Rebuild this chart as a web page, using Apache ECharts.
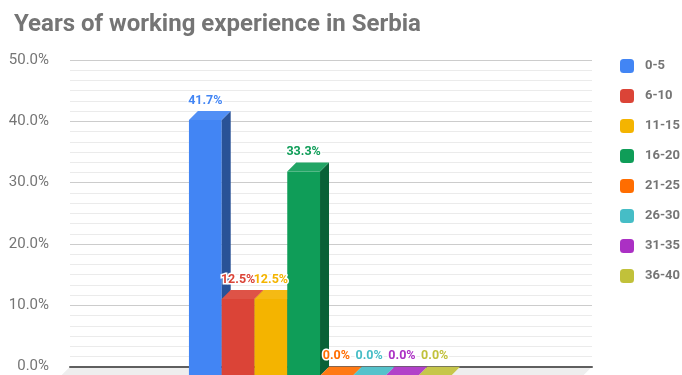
<!DOCTYPE html>
<html>
<head>
<meta charset="utf-8">
<script src="https://cdn.jsdelivr.net/npm/echarts@6/dist/echarts.min.js"></script>
<style>
  html, body { margin: 0; padding: 0; background: #fff; }
  #chart { width: 682px; height: 375px; }
</style>
</head>
<body>
<div id="chart"></div>
<script>
// Experience bands (years) and the share of respondents in each
const groups = ['0-5', '6-10', '11-15', '16-20', '21-25', '26-30', '31-35', '36-40'];
const shares = [41.7, 12.5, 12.5, 33.3, 0, 0, 0, 0];
const colors = ['#4285f4', '#db4437', '#f4b400', '#0f9d58', '#ff6d00', '#46bdc6', '#ab30c4', '#c1c13a'];
const yTicks = [0, 10, 20, 30, 40, 50];

const DEPTH = 9; // 3D extrusion in pixels

function shade(hex, f) {
  const n = parseInt(hex.slice(1), 16);
  let r = (n >> 16) & 255, g = (n >> 8) & 255, b = n & 255;
  if (f < 0) { r *= 1 + f; g *= 1 + f; b *= 1 + f; }
  else { r += (255 - r) * f; g += (255 - g) * f; b += (255 - b) * f; }
  return 'rgb(' + Math.round(r) + ',' + Math.round(g) + ',' + Math.round(b) + ')';
}

function renderBar(params, api) {
  const idx = api.value(0), v = api.value(1);
  const top = api.coord([idx, v]);
  const base = api.coord([idx, 0]);
  const w = api.size([1, 0])[0];
  const x0 = top[0] - w / 2, x1 = top[0] + w / 2;
  const yt = top[1] + DEPTH, yb = base[1] + DEPTH;
  const c = colors[params.seriesIndex - 1];
  return {
    type: 'group',
    children: [
      { type: 'rect', shape: { x: x0, y: yt, width: w, height: yb - yt }, style: { fill: c } },
      { type: 'polygon', shape: { points: [[x1, yt], [x1 + DEPTH, yt - DEPTH], [x1 + DEPTH, yb - DEPTH], [x1, yb]] },
        style: { fill: shade(c, -0.38) } },
      { type: 'polygon', shape: { points: [[x0, yt], [x1, yt], [x1 + DEPTH, yt - DEPTH], [x0 + DEPTH, yt - DEPTH]] },
        style: { fill: shade(c, 0.08) } },
      { type: 'text', z2: 10, style: {
          text: v.toFixed(1) + '%', x: top[0], y: top[1] - 10.5,
          fill: c, stroke: '#fff', lineWidth: 3,
          font: 'bold 12.5px Roboto, sans-serif', align: 'center', verticalAlign: 'middle' } }
    ]
  };
}

function renderFloor(params, api) {
  const l = api.coord([xMin, 0]), r = api.coord([xMax, 0]);
  return {
    type: 'polygon',
    shape: { points: [[l[0], l[1]], [r[0], r[1]], [r[0] - DEPTH, r[1] + DEPTH], [l[0] - DEPTH, l[1] + DEPTH]] },
    style: { fill: '#eeeeee' }
  };
}

const xMin = -4.13, xMax = 11.8;

const series = [{
  type: 'custom', name: 'floor', z: 0, silent: true,
  renderItem: renderFloor, data: [[0, 0]]
}];
groups.forEach((g, i) => {
  series.push({
    type: 'custom', name: g, z: 2,
    itemStyle: { color: colors[i] },
    renderItem: renderBar,
    data: [[i, shares[i]]]
  });
});

const chart = echarts.init(document.getElementById('chart'), null, { renderer: 'canvas' });
chart.setOption({
  animation: false,
  color: colors,
  title: {
    text: 'Years of working experience in Serbia',
    left: 9, top: 8,
    textStyle: { fontFamily: 'Roboto', fontWeight: 'bold', fontSize: 24, color: '#757575' }
  },
  legend: {
    orient: 'vertical', left: 615, top: 54,
    data: groups,
    icon: 'roundRect', itemWidth: 14, itemHeight: 14, itemGap: 16,
    textStyle: { fontFamily: 'Roboto', fontWeight: 'bold', fontSize: 13, color: '#757575', padding: [0, 0, 0, 6] }
  },
  grid: { left: 70, right: 90, top: 60, bottom: 8.3 },
  xAxis: {
    type: 'value', min: xMin, max: xMax, z: 1,
    axisLine: { show: true, onZero: false, lineStyle: { color: '#5f5f5f', width: 2 } },
    axisTick: { show: false }, axisLabel: { show: false }, splitLine: { show: false }
  },
  yAxis: {
    type: 'value', min: yTicks[0], max: yTicks[yTicks.length - 1], interval: 10,
    axisLine: { show: false }, axisTick: { show: false },
    axisLabel: {
      margin: 21, fontFamily: 'Roboto', fontSize: 15, color: '#757575',
      formatter: v => v.toFixed(1) + '%'
    },
    splitLine: { lineStyle: { color: '#cccccc', width: 1 } },
    minorTick: { show: false, splitNumber: 6 },
    minorSplitLine: { show: true, lineStyle: { color: '#ebebeb', width: 1 } }
  },
  series: series
});
</script>
</body>
</html>
